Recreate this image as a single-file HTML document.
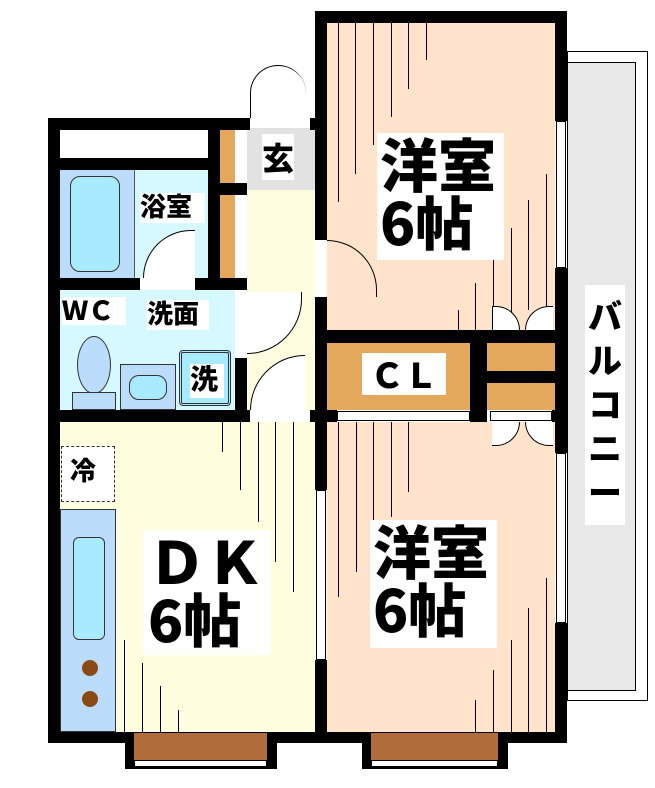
<!DOCTYPE html>
<html><head><meta charset="utf-8"><style>
body{margin:0;width:655px;height:788px;background:#fff;position:relative;overflow:hidden;font-family:"Liberation Sans","Noto Sans CJK JP",sans-serif}
div{position:absolute;box-sizing:border-box}
.b{background:#000}
.w{background:#fff}
.v{width:1px;background:#000}
.lbl{background:#fff;font-weight:900;color:#000;line-height:1;font-family:"Noto Sans CJK JP",sans-serif}
</style></head><body>
<!-- balcony -->
<div style="left:567px;top:51px;width:81px;height:650px;border:1px solid #000;background:#fff"></div>
<div style="left:567px;top:62px;width:69px;height:629px;border:1px solid #000;background:#e8e8e8"></div>
<div class="lbl" style="left:585px;top:285px;width:40px;height:240px;font-size:34px;text-align:center;padding-top:8px;line-height:44px">バ<br>ル<br>コ<br>ニ<br>ー</div>

<!-- rooms fills -->
<div style="left:327px;top:22px;width:228px;height:308px;background:#ffe3cb"></div>
<div style="left:327px;top:422px;width:228px;height:310px;background:#ffe3cb"></div>
<div style="left:60px;top:422px;width:255px;height:310px;background:#ffffe0"></div>
<div style="left:247px;top:190px;width:68px;height:220px;background:#fffde0"></div>
<div style="left:247px;top:128px;width:68px;height:62px;background:#e2e2e2"></div>
<div style="left:60px;top:290px;width:175px;height:120px;background:#d6f8ff"></div>
<div style="left:60px;top:170px;width:148px;height:108px;background:#d6f8ff"></div>
<div style="left:60px;top:170px;width:75px;height:108px;background:#bcdcfb;border-right:1px solid #555"></div>
<div style="left:70px;top:176px;width:50px;height:96px;background:#a8eaff;border:1px solid #333;border-radius:10px"></div>
<div class="w" style="left:60px;top:130px;width:148px;height:28px"></div>

<!-- floor hatch lines -->
<div class="v" style="left:338px;top:22px;height:180px"></div>
<div class="v" style="left:355px;top:22px;height:152px"></div>
<div class="v" style="left:373px;top:22px;height:123px"></div>
<div class="v" style="left:391px;top:22px;height:95px"></div>
<div class="v" style="left:408px;top:22px;height:67px"></div>
<div class="v" style="left:426px;top:22px;height:38px"></div>
<div class="v" style="left:458px;top:310px;height:20px"></div>
<div class="v" style="left:475px;top:283px;height:47px"></div>
<div class="v" style="left:493px;top:260px;height:70px"></div>
<div class="v" style="left:511px;top:228px;height:85px"></div>
<div class="v" style="left:528px;top:200px;height:110px"></div>
<div class="v" style="left:546px;top:174px;height:136px"></div>
<div class="v" style="left:338px;top:422px;height:175px"></div>
<div class="v" style="left:356px;top:422px;height:150px"></div>
<div class="v" style="left:373px;top:422px;height:120px"></div>
<div class="v" style="left:391px;top:422px;height:95px"></div>
<div class="v" style="left:408px;top:422px;height:70px"></div>
<div class="v" style="left:475px;top:700px;height:32px"></div>
<div class="v" style="left:493px;top:670px;height:62px"></div>
<div class="v" style="left:511px;top:640px;height:92px"></div>
<div class="v" style="left:528px;top:608px;height:124px"></div>
<div class="v" style="left:546px;top:578px;height:154px"></div>
<div class="v" style="left:222px;top:422px;height:30px"></div>
<div class="v" style="left:240px;top:422px;height:68px"></div>
<div class="v" style="left:258px;top:422px;height:100px"></div>
<div class="v" style="left:275px;top:422px;height:140px"></div>
<div class="v" style="left:293px;top:422px;height:170px"></div>
<div class="v" style="left:124px;top:640px;height:92px"></div>
<div class="v" style="left:142px;top:663px;height:69px"></div>
<div class="v" style="left:160px;top:686px;height:46px"></div>
<div class="v" style="left:178px;top:710px;height:22px"></div>

<!-- walls -->
<div class="b" style="left:48px;top:118px;width:12px;height:625px"></div>
<div class="b" style="left:48px;top:118px;width:202px;height:12px"></div>
<div class="b" style="left:48px;top:158px;width:172px;height:12px"></div>
<div class="b" style="left:208px;top:118px;width:12px;height:172px"></div>
<div class="b" style="left:48px;top:278px;width:92px;height:12px"></div>
<div class="b" style="left:195px;top:278px;width:52px;height:12px"></div>
<div class="b" style="left:220px;top:183px;width:27px;height:12px"></div>
<div class="b" style="left:235px;top:358px;width:12px;height:64px"></div>
<div class="b" style="left:48px;top:410px;width:202px;height:12px"></div>
<div class="b" style="left:310px;top:410px;width:27px;height:12px"></div>
<div class="b" style="left:310px;top:118px;width:17px;height:12px"></div>
<div class="b" style="left:315px;top:11px;width:252px;height:12px"></div>
<div class="b" style="left:315px;top:11px;width:12px;height:229px"></div>
<div class="b" style="left:315px;top:297px;width:12px;height:193px"></div>
<div class="b" style="left:315px;top:660px;width:12px;height:83px"></div>
<div class="b" style="left:555px;top:11px;width:12px;height:110px"></div>
<div class="b" style="left:555px;top:268px;width:12px;height:185px"></div>
<div class="b" style="left:555px;top:623px;width:12px;height:120px"></div>
<div class="b" style="left:48px;top:732px;width:519px;height:11px"></div>
<div class="b" style="left:315px;top:330px;width:252px;height:13px"></div>
<div class="b" style="left:470px;top:343px;width:17px;height:79px"></div>
<div class="b" style="left:315px;top:410px;width:22px;height:12px"></div>
<div class="b" style="left:552px;top:410px;width:15px;height:12px"></div>
<div class="w" style="left:337px;top:411px;width:133px;height:10px;border:1px solid #000"></div>
<div class="w" style="left:490px;top:411px;width:62px;height:10px;border:1px solid #000"></div>
<!-- right wall windows -->
<div class="w" style="left:556px;top:121px;width:10px;height:147px;border:1px solid #000"></div>
<div class="w" style="left:556px;top:453px;width:10px;height:170px;border:1px solid #000"></div>
<div class="w" style="left:316px;top:490px;width:10px;height:170px;border:1px solid #000"></div>

<!-- closets -->
<div style="left:327px;top:343px;width:143px;height:67px;background:#e3a85c"></div>
<div style="left:487px;top:343px;width:68px;height:28px;background:#e3a85c"></div>
<div class="b" style="left:487px;top:371px;width:68px;height:12px"></div>
<div style="left:487px;top:383px;width:68px;height:27px;background:#e3a85c"></div>
<div style="left:220px;top:130px;width:15px;height:53px;background:#e3a85c"></div>
<div style="left:220px;top:195px;width:15px;height:83px;background:#e3a85c"></div>

<!-- doors -->
<div style="left:250px;top:65px;width:56px;height:53px;border:1px solid #000;border-bottom:none;border-radius:56px 56px 0 0;border-right:none"></div>
<div style="left:327px;top:240px;width:50px;height:57px;border-top:1px solid #000;border-right:1px solid #000;border-radius:0 57px 0 0"></div>
<div style="top:230px;width:52px;height:48px;border-top:1px solid #000;border-left:1px solid #000;border-radius:52px 0 0 0;background:#fff;left:143px"></div>
<div style="left:247px;top:292px;width:55px;height:62px;border-right:1px solid #000;border-bottom:1px solid #000;border-radius:0 0 55px 0;background:#fff"></div>
<div style="left:250px;top:355px;width:55px;height:55px;border-top:1px solid #000;border-left:1px solid #000;border-radius:55px 0 0 0;background:#fff"></div>
<div style="left:492px;top:306px;width:28px;height:24px;border-top:1px solid #000;border-right:1px solid #000;border-radius:0 24px 0 0;background:#fff;border-left:1px solid #000"></div>
<div style="left:525px;top:306px;width:28px;height:24px;border-top:1px solid #000;border-left:1px solid #000;border-radius:24px 0 0 0;background:#fff"></div>
<div style="left:492px;top:422px;width:28px;height:24px;border-bottom:1px solid #000;border-right:1px solid #000;border-radius:0 0 24px 0;background:#fff"></div>
<div style="left:525px;top:422px;width:28px;height:24px;border-bottom:1px solid #000;border-left:1px solid #000;border-radius:0 0 0 24px;background:#fff"></div>

<!-- WC fixtures -->
<div style="left:77px;top:336px;width:34px;height:58px;border:1px solid #333;border-radius:50%;background:#bcdcfb"></div>
<div style="left:72px;top:392px;width:44px;height:18px;border:1px solid #333;background:#bcdcfb"></div>
<div style="left:120px;top:364px;width:56px;height:46px;border:1px solid #333;background:#bcdcfb"></div>
<div style="left:129px;top:375px;width:38px;height:25px;border:1px solid #333;border-radius:10px;background:#a8eaff"></div>
<div style="left:179px;top:350px;width:52px;height:56px;border:3px double #333;border-radius:4px;background:#a8eaff"></div>

<!-- kitchen -->
<div style="left:61px;top:446px;width:54px;height:56px;border:1px dashed #333;background:#fff"></div>
<div style="left:60px;top:509px;width:56px;height:223px;background:#bcdcfb;border:1px solid #333"></div>
<div style="left:73px;top:537px;width:32px;height:103px;border:1px solid #333;border-radius:6px;background:#a8eaff"></div>
<div style="left:82px;top:660px;width:16px;height:16px;border-radius:50%;background:#8b4a14"></div>
<div style="left:82px;top:691px;width:16px;height:16px;border-radius:50%;background:#8b4a14"></div>

<!-- bottom windows -->
<div class="b" style="left:125px;top:732px;width:152px;height:37px"></div>
<div style="left:134px;top:733px;width:133px;height:27px;background:#b06c3a"></div>
<div class="w" style="left:134px;top:760px;width:133px;height:7px;border:1px solid #000"></div>
<div class="b" style="left:362px;top:732px;width:146px;height:37px"></div>
<div style="left:371px;top:733px;width:127px;height:27px;background:#b06c3a"></div>
<div class="w" style="left:371px;top:760px;width:127px;height:7px;border:1px solid #000"></div>

<!-- labels -->
<div class="lbl" style="left:377px;top:133px;width:127px;height:127px;font-size:58px;padding-left:3px">洋室<br>6帖</div>
<div class="lbl" style="left:370px;top:520px;width:127px;height:128px;font-size:58px;padding-left:3px">洋室<br>6帖</div>
<div class="lbl" style="left:143px;top:530px;width:127px;height:125px;font-size:58px;padding-left:5px">ＤＫ<br>6帖</div>
<div class="lbl" style="left:362px;top:353px;width:84px;height:42px;font-size:34px;text-align:center;padding-top:4px">ＣＬ</div>
<div class="lbl" style="left:262px;top:133px;width:38px;height:50px;font-size:32px;padding-top:8px;background:#e2e2e2"><span style="background:#fff">玄</span></div>
<div class="lbl" style="left:140px;top:193px;width:65px;height:30px;font-size:26px">浴室</div>
<div class="lbl" style="left:62px;top:297px;width:64px;height:28px;font-size:26px">ＷＣ</div>
<div class="lbl" style="left:147px;top:300px;width:62px;height:30px;font-size:26px">洗面</div>
<div class="lbl" style="left:190px;top:364px;width:34px;height:34px;font-size:28px">洗</div>
<div class="lbl" style="left:70px;top:457px;width:30px;height:32px;font-size:26px">冷</div>
</body></html>
